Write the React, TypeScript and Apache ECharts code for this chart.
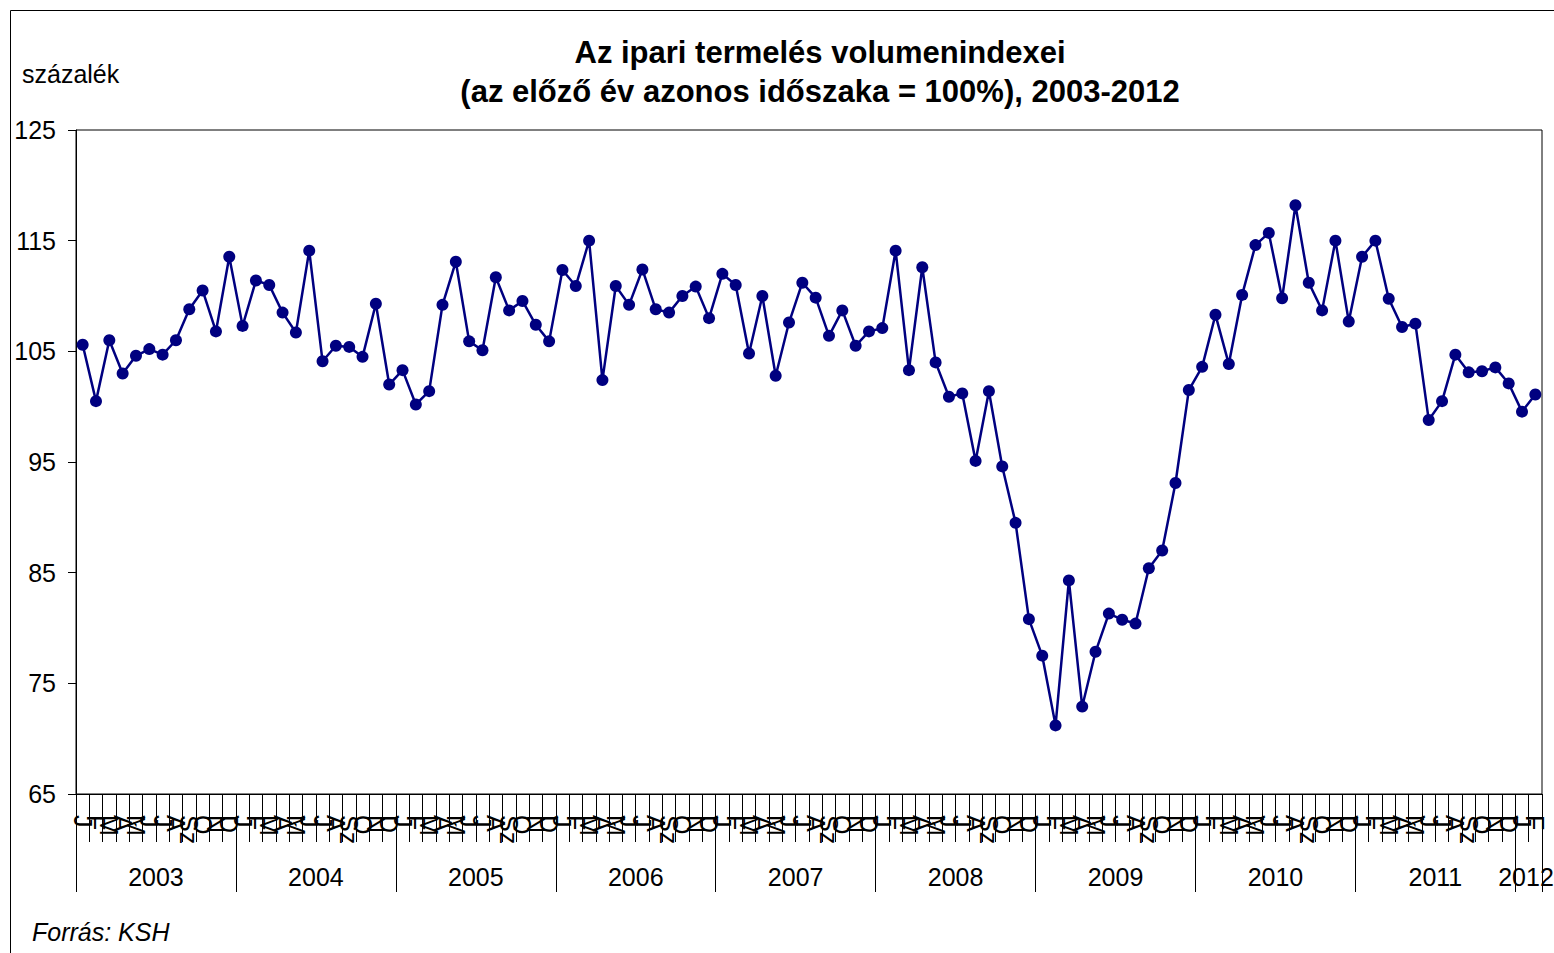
import React, { useEffect, useRef } from "react";
import * as echarts from "echarts";

const monthLetters = ["J", "F", "M", "Á", "M", "J", "J", "A", "Sz", "O", "N", "D"];
const years = ["2003", "2004", "2005", "2006", "2007", "2008", "2009", "2010", "2011", "2012"];

const v2003 = [105.6, 100.5, 106.0, 103.0, 104.6, 105.2, 104.7, 106.0, 108.8, 110.5, 106.8, 113.55];
const v2004 = [107.3, 111.4, 111.0, 108.5, 106.7, 114.1, 104.1, 105.5, 105.4, 104.5, 109.3, 102.0];
const v2005 = [103.3, 100.2, 101.4, 109.2, 113.1, 105.9, 105.1, 111.7, 108.7, 109.55, 107.4, 105.9];
const v2006 = [112.35, 110.9, 115.0, 102.4, 110.9, 109.2, 112.4, 108.8, 108.5, 110.0, 110.85, 108.0];
const v2007 = [112.0, 111.0, 104.8, 110.0, 102.8, 107.6, 111.2, 109.85, 106.4, 108.7, 105.5, 106.8];
const v2008 = [107.1, 114.1, 103.3, 112.6, 104.0, 100.9, 101.2, 95.1, 101.4, 94.6, 89.5, 80.8];
const v2009 = [77.5, 71.2, 84.3, 72.9, 77.85, 81.3, 80.75, 80.4, 85.4, 87.0, 93.1, 101.5];
const v2010 = [103.6, 108.3, 103.85, 110.1, 114.6, 115.7, 109.8, 118.2, 111.2, 108.7, 115.0, 107.7];
const v2011 = [113.55, 115.0, 109.75, 107.2, 107.5, 98.8, 100.5, 104.7, 103.1, 103.2, 103.55, 102.1];
const v2012 = [99.55, 101.1];

const yTickValues = [65, 75, 85, 95, 105, 115, 125];
const yearTickValues = [0, 12, 24, 36, 48, 60, 72, 84, 96, 108, 110];
const yearLabelValues = [6, 18, 30, 42, 54, 66, 78, 90, 102, 108.8];

const FONT = "'Liberation Sans', Arial, sans-serif";

export default function App() {
  const ref = useRef<HTMLDivElement>(null);
  useEffect(() => {
    if (!ref.current) return;
    const chart = echarts.init(ref.current, undefined, { renderer: "svg" });
    const values = [...v2003, ...v2004, ...v2005, ...v2006, ...v2007, ...v2008, ...v2009, ...v2010, ...v2011, ...v2012];
    const categories = values.map((_, i) => monthLetters[i % 12]);
    const option: any = {
      animation: false,
      backgroundColor: "#ffffff",
      textStyle: { fontFamily: FONT },
      grid: {
        left: 76,
        top: 130,
        right: 12,
        bottom: 159,
        show: true,
        borderColor: "#000",
        borderWidth: 1,
        containLabel: false,
        outerBoundsMode: "none",
      },
      xAxis: [
        {
          type: "category",
          data: categories,
          boundaryGap: true,
          position: "bottom",
          axisLine: { show: true, lineStyle: { color: "#000", width: 1 } },
          axisTick: { show: true, interval: 0, length: 48, lineStyle: { color: "#000", width: 1 } },
          axisLabel: {
            interval: 0,
            rotate: -90,
            margin: 21,
            hideOverlap: false,
            fontSize: 25,
            color: "#000",
            fontFamily: FONT,
          },
          splitLine: { show: false },
        },
        {
          type: "value",
          min: 0,
          max: 110,
          position: "bottom",
          axisLine: { show: false },
          axisTick: {
            show: true,
            customValues: yearTickValues,
            length: 98,
            lineStyle: { color: "#000", width: 1 },
          },
          axisLabel: {
            show: true,
            customValues: yearLabelValues,
            margin: 70,
            fontSize: 25,
            color: "#000",
            fontFamily: FONT,
            hideOverlap: false,
            showMinLabel: true,
            showMaxLabel: true,
            formatter: (v: number) => years[Math.floor(v / 12)] ?? "",
          },
          splitLine: { show: false },
        },
      ],
      yAxis: {
        type: "value",
        min: 65,
        max: 125,
        axisLine: { show: true, lineStyle: { color: "#000", width: 1 } },
        axisTick: { show: true, customValues: yTickValues, length: 8, lineStyle: { color: "#000" } },
        axisLabel: {
          customValues: yTickValues,
          margin: 20,
          fontSize: 25,
          color: "#000",
          fontFamily: FONT,
        },
        splitLine: { show: false },
      },
      series: [
        {
          type: "line",
          xAxisIndex: 0,
          data: values,
          symbol: "circle",
          symbolSize: 12,
          showAllSymbol: true,
          lineStyle: { color: "#000080", width: 2.5 },
          itemStyle: { color: "#000080" },
        },
      ],
      graphic: [
        {
          type: "rect",
          shape: { x: 10.5, y: 10.5, width: 1600, height: 1000 },
          style: { fill: "none", stroke: "#000", lineWidth: 1 },
          silent: true,
        },
        {
          type: "text",
          x: 820,
          y: 52,
          style: {
            text: "Az ipari termelés volumenindexei",
            font: `bold 31px ${FONT}`,
            fill: "#000",
            textAlign: "center",
            textVerticalAlign: "middle",
          },
        },
        {
          type: "text",
          x: 820,
          y: 91,
          style: {
            text: "(az előző év azonos időszaka = 100%), 2003-2012",
            font: `bold 31px ${FONT}`,
            fill: "#000",
            textAlign: "center",
            textVerticalAlign: "middle",
          },
        },
        {
          type: "text",
          x: 22,
          y: 74,
          style: {
            text: "százalék",
            font: `25px ${FONT}`,
            fill: "#000",
            textAlign: "left",
            textVerticalAlign: "middle",
          },
        },
        {
          type: "text",
          x: 32,
          y: 932,
          style: {
            text: "Forrás: KSH",
            font: `italic 25px ${FONT}`,
            fill: "#000",
            textAlign: "left",
            textVerticalAlign: "middle",
          },
        },
      ],
    };
    chart.setOption(option);
    return () => chart.dispose();
  }, []);
  return (
    <div
      ref={ref}
      style={{ position: "absolute", left: 0, top: 0, width: 1554, height: 953 }}
    />
  );
}
